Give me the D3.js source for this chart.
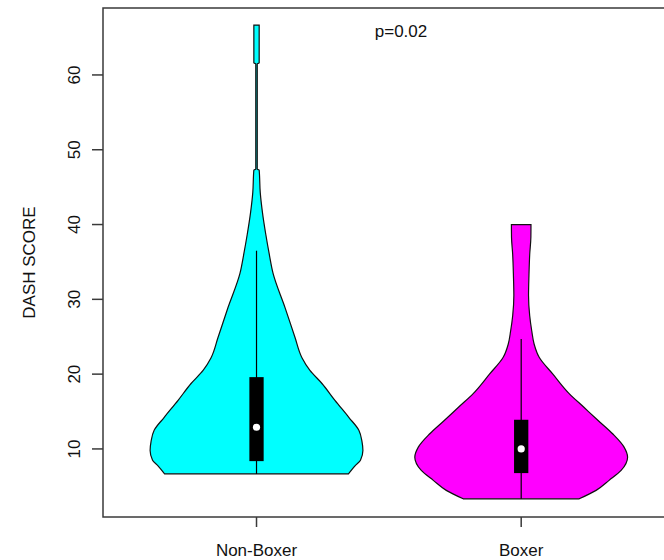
<!DOCTYPE html>
<html>
<head>
<meta charset="utf-8">
<script src="https://cdn.jsdelivr.net/npm/d3@7"></script>
<style>
  body { margin: 0; background: #fff; }
  text { font-family: Arial, "Liberation Sans", sans-serif; fill: #111; }
</style>
</head>
<body>
<div id="chart"></div>
<script>
var groups = ["Non-Boxer", "Boxer"];
var fills = ["#00ffff", "#ff00ff"];

// density outline (score -> relative half width)
var nonBoxerScore   = [6.67, 7.8, 8.5, 9.8, 11, 12.5, 14.2, 16.5, 18.75, 20.5, 22.2, 24.9, 28.9, 33.5, 36.1, 38.7, 41.6, 44.3, 47.3, 47.4, 61.5, 61.6, 66.67];
var nonBoxerDensity = [0.864, 0.930, 0.977, 1, 0.991, 0.962, 0.869, 0.737, 0.615, 0.502, 0.427, 0.362, 0.268, 0.155, 0.119, 0.087, 0.056, 0.035, 0.025, 0.007, 0.007, 0.025, 0.025];
var boxerScore   = [3.33, 4.46, 5.8, 7.13, 8.9, 10.24, 12.03, 13.8, 15.6, 17.4, 20.0, 22.25, 24.0, 25.8, 27.8, 30.5, 33.2, 36, 38.3, 40];
var boxerDensity = [0.545, 0.704, 0.826, 0.939, 1, 0.967, 0.859, 0.723, 0.587, 0.451, 0.298, 0.169, 0.122, 0.099, 0.080, 0.069, 0.073, 0.080, 0.091, 0.092];

// box summaries
var q1 = [8.37, 6.77];
var median = [12.9, 10.0];
var q3 = [19.6, 13.9];
var whiskerLo = [6.67, 3.33];
var whiskerHi = [36.5, 24.7];

var yTicks = [10, 20, 30, 40, 50, 60];
var yLabel = "DASH SCORE";
var pLabel = "p=0.02";

var W = 664, H = 560;
var margin = { left: 103, top: 8, right: 680, bottom: 517 };

var svg = d3.select("#chart").append("svg")
    .attr("width", W)
    .attr("height", H);

var x = d3.scaleLinear().domain([0.42, 2.6]).range([margin.left, margin.right]);
var y = d3.scaleLinear().domain([0.9, 68.95]).range([margin.bottom, margin.top]);
var wex = d3.scaleLinear().domain([0, 1]).range([0, 0.402]);

var violins = [
  { score: nonBoxerScore, dens: nonBoxerDensity },
  { score: boxerScore, dens: boxerDensity }
];

violins.forEach(function(v, i) {
  var pos = i + 1;
  var pts = v.score.map(function(s, j) { return { s: s, d: v.dens[j] }; });
  var area = d3.area()
      .y(function(d) { return y(d.s); })
      .x0(function(d) { return x(pos - wex(d.d)); })
      .x1(function(d) { return x(pos + wex(d.d)); })
      .curve(d3.curveMonotoneY);
  svg.append("path")
      .attr("d", area(pts))
      .attr("fill", fills[i])
      .attr("stroke", "#111")
      .attr("stroke-width", 1.2);

  // whisker
  svg.append("line")
      .attr("x1", x(pos)).attr("x2", x(pos))
      .attr("y1", y(whiskerLo[i])).attr("y2", y(whiskerHi[i]))
      .attr("stroke", "#000")
      .attr("stroke-width", 1.2);

  // box
  svg.append("rect")
      .attr("x", x(pos - 0.027))
      .attr("width", x(pos + 0.027) - x(pos - 0.027))
      .attr("y", y(q3[i]))
      .attr("height", y(q1[i]) - y(q3[i]))
      .attr("fill", "#000");

  svg.append("circle")
      .attr("cx", x(pos))
      .attr("cy", y(median[i]))
      .attr("r", 3.6)
      .attr("fill", "#fff");
});

// frame (right side runs off the page)
svg.append("rect")
    .attr("x", margin.left).attr("y", margin.top)
    .attr("width", margin.right - margin.left).attr("height", margin.bottom - margin.top)
    .attr("fill", "none")
    .attr("stroke", "#3a3a3a")
    .attr("stroke-width", 1.5);

// y axis
var yt = svg.append("g");
yt.selectAll("line").data(yTicks).enter().append("line")
    .attr("x1", margin.left - 11).attr("x2", margin.left)
    .attr("y1", function(d) { return y(d); })
    .attr("y2", function(d) { return y(d); })
    .attr("stroke", "#3a3a3a")
    .attr("stroke-width", 1.5);
yt.selectAll("text").data(yTicks).enter().append("text")
    .text(function(d) { return d; })
    .attr("transform", function(d) { return "translate(79.5," + y(d) + ") rotate(-90)"; })
    .style("text-anchor", "middle")
    .style("font-size", "17px");

svg.append("text")
    .text(yLabel)
    .attr("transform", "translate(35," + ((margin.top + margin.bottom) / 2) + ") rotate(-90)")
    .style("text-anchor", "middle")
    .style("font-size", "17px");

// x axis
var xt = svg.append("g");
xt.selectAll("line").data(groups).enter().append("line")
    .attr("x1", function(d, i) { return x(i + 1); })
    .attr("x2", function(d, i) { return x(i + 1); })
    .attr("y1", margin.bottom).attr("y2", margin.bottom + 10)
    .attr("stroke", "#3a3a3a")
    .attr("stroke-width", 1.5);
xt.selectAll("text").data(groups).enter().append("text")
    .text(function(d) { return d; })
    .attr("x", function(d, i) { return x(i + 1); })
    .attr("y", 556)
    .style("text-anchor", "middle")
    .style("font-size", "17px");

svg.append("text")
    .text(pLabel)
    .attr("x", 401)
    .attr("y", 37)
    .style("text-anchor", "middle")
    .style("font-size", "17px");
</script>
</body>
</html>
